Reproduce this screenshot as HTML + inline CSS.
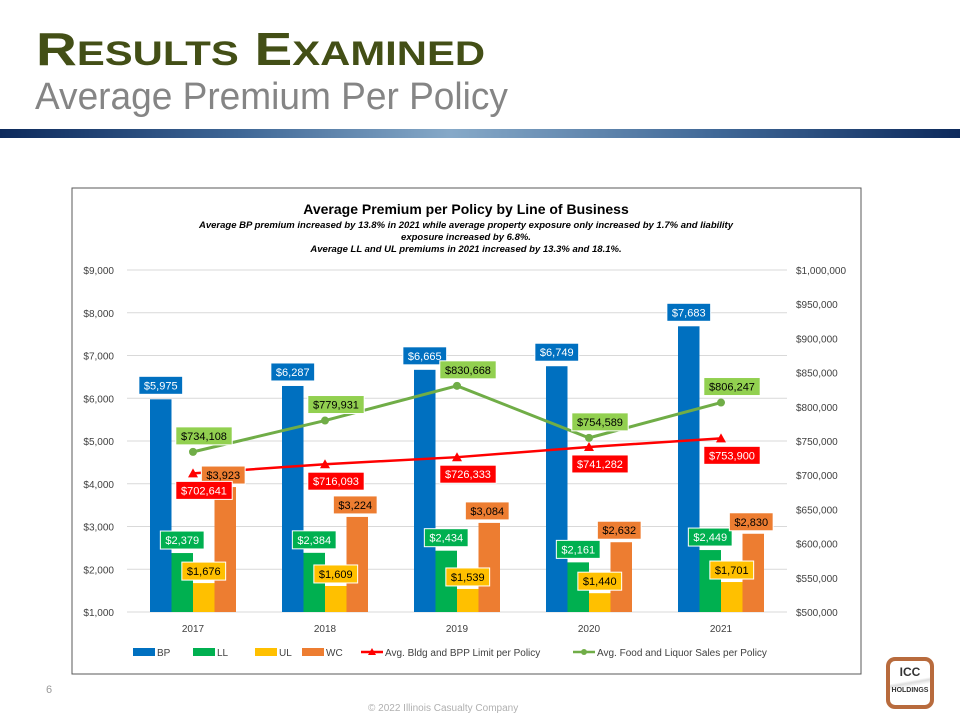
<!DOCTYPE html>
<html><head><meta charset="utf-8"><style>
body{margin:0;width:960px;height:720px;background:#fff;position:relative;overflow:hidden;font-family:"Liberation Sans",sans-serif}
.t1{position:absolute;left:36px;top:22px;font-size:46px;font-weight:bold;color:#434f16;letter-spacing:0px;transform:scaleX(1.23);transform-origin:left}
.t1 small{font-size:34px}
.t2{position:absolute;left:35px;top:76px;font-size:38px;color:#858585;transform:scaleX(0.975);transform-origin:left}
.bar{position:absolute;left:0;top:129px;width:960px;height:9px;background:linear-gradient(90deg,#0d2a5c 0%,#3f6796 25%,#86a9c8 47%,#3f6796 75%,#0d2a5c 100%)}
.pg{position:absolute;left:46px;top:684px;font-size:11px;color:#999}
.cp{position:absolute;left:368px;top:703px;font-size:10px;color:#b0b0b0}
.logo{position:absolute;left:886px;top:657px;width:48px;height:52px;border:4px solid #b86b3d;border-radius:9px;box-sizing:border-box;text-align:center;font-weight:bold;color:#333;background:linear-gradient(170deg,#fff 45%,#ddd 50%,#fff 58%)}
</style></head><body>
<div class="t1">R<small>ESULTS</small> E<small>XAMINED</small></div>
<div class="t2">Average Premium Per Policy</div>
<div class="bar"></div>
<svg id="chart" width="960" height="720" style="position:absolute;left:0;top:0"></svg>
<div class="pg">6</div>
<div class="cp">© 2022 Illinois Casualty Company</div>
<div class="logo"><div style="font-size:12px;margin-top:4px">ICC</div><div style="font-size:7px;margin-top:8px">HOLDINGS</div></div>
<script>
const years=["2017","2018","2019","2020","2021"];
const bp=[5975,6287,6665,6749,7683];
const ll=[2379,2384,2434,2161,2449];
const ul=[1676,1609,1539,1440,1701];
const wc=[3923,3224,3084,2632,2830];
const bldg=[702641,716093,726333,741282,753900];
const food=[734108,779931,830668,754589,806247];
const leftTicks=[1000,2000,3000,4000,5000,6000,7000,8000,9000];
const rightTicks=[500000,550000,600000,650000,700000,750000,800000,850000,900000,950000,1000000];
const svg=document.getElementById('chart');const NS='http://www.w3.org/2000/svg';
function mk(t,a,txt){const e=document.createElementNS(NS,t);for(const k in a)e.setAttribute(k,a[k]);if(txt!=null)e.textContent=txt;svg.appendChild(e);return e;}
const x0=127,cw=132,plotTop=270,plotBot=612;
const yL=v=>plotBot-(v-1000)/8000*(plotBot-plotTop);
const yR=v=>plotBot-(v-500000)/500000*(plotBot-plotTop);
const cx=i=>x0+cw*i+cw/2;
const fmt=v=>'$'+v.toLocaleString('en-US');
let e=mk('rect',{x:72,y:188,width:789,height:486,fill:'#fff',stroke:'#595959','stroke-width':1});

e=mk('text',{x:466,y:214,'text-anchor':'middle','font-size':14,'font-weight':'bold',fill:'#000'},'Average Premium per Policy by Line of Business');

const subs=['Average BP premium increased by 13.8% in 2021 while average property exposure only increased by 1.7% and liability','exposure increased by 6.8%.','Average LL and UL premiums in 2021 increased by 13.3% and 18.1%.'];
subs.forEach((s,i)=>{const t=mk('text',{x:466,y:228+i*12,'text-anchor':'middle','font-size':9.5,'font-weight':'bold','font-style':'italic',fill:'#000'},s);
});
leftTicks.forEach(v=>{const y=yL(v);mk('line',{x1:x0,x2:787,y1:y,y2:y,stroke:'#d9d9d9'});
const t=mk('text',{x:114,y:y+4,'text-anchor':'end','font-size':10,fill:'#404040'},fmt(v));
});
rightTicks.forEach(v=>{const t=mk('text',{x:796,y:yR(v)+4,'font-size':10,fill:'#404040'},fmt(v));
});
const series=[[bp,'#0070C0','#fff'],[ll,'#00B050','#fff'],[ul,'#FFC000','#000'],[wc,'#ED7D31','#000']];
const bw=21.5;
function label(x,y,txt,bg,fg,name){const w=txt.length*6.3+6;
const r=mk('rect',{x:x-w/2,y:y-9,width:w,height:18,fill:bg,stroke:'#fff','stroke-width':1});

const t=mk('text',{x:x,y:y+4,'text-anchor':'middle','font-size':11,fill:fg},txt);
}
const names=['bp','ll','ul','wc'];
years.forEach((yr,i)=>{series.forEach((s,j)=>{const v=s[0][i];const bx=cx(i)-2*bw+j*bw;const y=yL(v);
const r=mk('rect',{x:bx,y:y,width:bw,height:plotBot-y,fill:s[1]});
});
const t=mk('text',{x:cx(i),y:632,'text-anchor':'middle','font-size':10,fill:'#404040'},yr);
});
function line(arr,col,name){const pts=arr.map((v,i)=>cx(i)+','+yR(v)).join(' ');
const p=mk('polyline',{points:pts,fill:'none',stroke:col,'stroke-width':name=='food'?3:2.5});

arr.forEach((v,i)=>{let m;if(name=='food')m=mk('circle',{cx:cx(i),cy:yR(v),r:4,fill:col});
else{const x=cx(i),y=yR(v);m=mk('polygon',{points:`${x-5},${y+4} ${x+5},${y+4} ${x},${y-5}`,fill:col});}
});}
line(bldg,'#FF0000','bldg');line(food,'#70AD47','food');
years.forEach((yr,i)=>{
label(cx(i)-1.5*bw,yL(bp[i])-14,fmt(bp[i]),'#0070C0','#fff','label-bp');
label(cx(i)-0.5*bw,yL(ll[i])-13,fmt(ll[i]),'#00B050','#fff','label-ll');
label(cx(i)+0.5*bw,yL(ul[i])-12,fmt(ul[i]),'#FFC000','#000','label-ul');
label(cx(i)+1.5*bw-2,yL(wc[i])-12,fmt(wc[i]),'#ED7D31','#000','label-wc');
label(cx(i)+11,yR(bldg[i])+17,fmt(bldg[i]),'#FF0000','#fff','label-bldg');
label(cx(i)+11,yR(food[i])-16,fmt(food[i]),'#92D050','#000','label-food');});
const leg=[['BP','#0070C0','box',133],['LL','#00B050','box',193],['UL','#FFC000','box',255],['WC','#ED7D31','box',302],['Avg. Bldg and BPP Limit per Policy','#FF0000','tri',361],['Avg. Food and Liquor Sales per Policy','#70AD47','dot',573]];
leg.forEach(l=>{const y=652;
if(l[2]=='box')mk('rect',{x:l[3],y:y-4,width:22,height:8,fill:l[1]});
else{mk('line',{x1:l[3],x2:l[3]+22,y1:y,y2:y,stroke:l[1],'stroke-width':2.5});
if(l[2]=='tri')mk('polygon',{points:`${l[3]+7},${y+3} ${l[3]+15},${y+3} ${l[3]+11},${y-4}`,fill:l[1]});else mk('circle',{cx:l[3]+11,cy:y,r:3,fill:l[1]});}
const t=mk('text',{x:l[3]+24,y:y+4,'font-size':10,fill:'#404040'},l[0]);
});
</script>
</body></html>
